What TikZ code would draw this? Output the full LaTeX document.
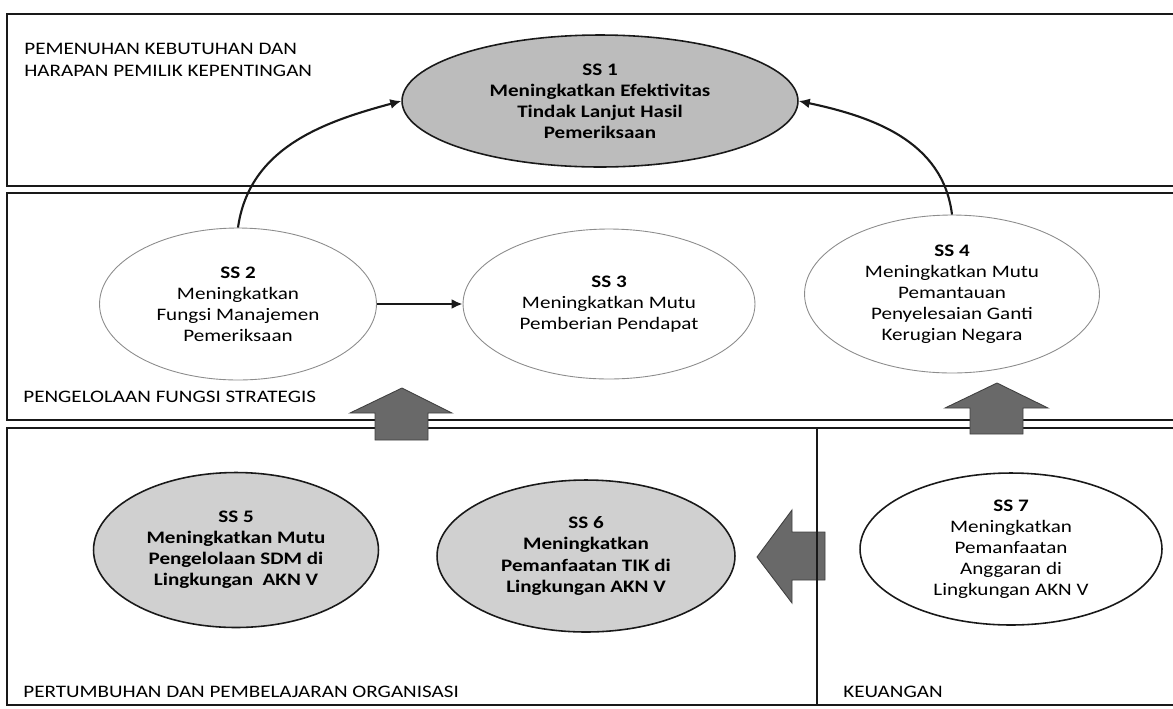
\documentclass[tikz,border=0pt]{standalone}
\usepackage{fontspec}
\setmainfont{Carlito}[FakeStretch=1.2]
\usetikzlibrary{arrows.meta,shapes.geometric}
\definecolor{bscgoalgray}{RGB}{188,188,188}
\definecolor{bscsoftgray}{RGB}{208,208,208}
\definecolor{bscarrowgray}{RGB}{105,105,105}
\definecolor{bscdark}{RGB}{25,25,25}
\tikzset{
  bsc oval/.style={
    ellipse,
    inner sep=0pt,
    align=center,
    font=\fontsize{10}{12}\selectfont,
  },
  bsc arrow/.style={
    -{Latex[length=2.2mm,width=2.0mm]},
    line width=1.2pt,
    draw=bscdark,
  },
}

\begin{document}
\begin{tikzpicture}[x=0.02cm,y=-0.02cm]
  \tikzstyle{panel}=[draw=bscdark, line width=0.8pt]
  \tikzstyle{goaloval}=[bsc oval, draw=bscdark, line width=0.9pt, fill=bscgoalgray, font=\fontsize{10}{12}\selectfont\bfseries]
  \tikzstyle{plainoval}=[bsc oval, draw=black!45, line width=0.5pt, fill=white]
  \tikzstyle{blockarrow}=[fill=bscarrowgray, draw=black!75, line width=0.5pt]
  \tikzstyle{perspective}=[inner sep=0pt, align=left, font=\fontsize{10}{12.5}\selectfont]

  \useasboundingbox (0,0) rectangle (1173,708);

  % Perspective panels
  \draw[panel] (1173,14) -- (7,14) -- (7,186) -- (1173,186);
  \draw[panel] (1173,193) -- (7,193) -- (7,420) -- (1173,420);
  \draw[panel] (1173,428) -- (7,428) -- (7,705) -- (1173,705);

  \node[perspective, anchor=north west] (lblstake) at (24,43)
    {PEMENUHAN KEBUTUHAN DAN\\HARAPAN PEMILIK KEPENTINGAN};
  \node[perspective, anchor=base west] (lblproc) at (23,402) {PENGELOLAAN FUNGSI STRATEGIS};
  \node[perspective, anchor=base west] (lblgrow) at (23,697) {PERTUMBUHAN DAN PEMBELAJARAN ORGANISASI};
  \node[perspective, anchor=base west] (lblfin) at (843,697) {KEUANGAN};

  % Strategic objectives
  \node[goaloval, minimum width=7.92cm, minimum height=2.64cm] (ss1) at (600,101)
    {SS 1\\Meningkatkan Efektivitas\\Tindak Lanjut Hasil\\Pemeriksaan};
  \node[plainoval, minimum width=5.54cm, minimum height=3.04cm] (ss2) at (238,304)
    {\textbf{SS 2}\\Meningkatkan\\Fungsi Manajemen\\Pemeriksaan};
  \node[plainoval, minimum width=5.84cm, minimum height=3.0cm] (ss3) at (609,304)
    {\textbf{SS 3}\\Meningkatkan Mutu\\Pemberian Pendapat};
  \node[plainoval, minimum width=5.9cm, minimum height=3.16cm] (ss4) at (952,294)
    {\textbf{SS 4}\\Meningkatkan Mutu\\Pemantauan\\Penyelesaian Ganti\\Kerugian Negara};
  \node[goaloval, fill=bscsoftgray, minimum width=5.7cm, minimum height=3.1cm] (ss5) at (236,550)
    {SS 5\\Meningkatkan Mutu\\Pengelolaan SDM di\\Lingkungan~ AKN V};
  \node[goaloval, fill=bscsoftgray, minimum width=5.96cm, minimum height=3.04cm] (ss6) at (586,556)
    {SS 6\\Meningkatkan\\Pemanfaatan TIK di\\Lingkungan AKN V};
  \node[plainoval, draw=bscdark, line width=0.9pt, minimum width=6.04cm, minimum height=3.04cm] (ss7) at (1011,549)
    {\textbf{SS 7}\\Meningkatkan\\Pemanfaatan\\Anggaran di\\Lingkungan AKN V};

  % Links
  \draw[bsc arrow] (ss2.north) to[out=82,in=195] (ss1.west);
  \draw[bsc arrow] (ss4.north) to[out=97,in=-12] (ss1.east);
  \draw[bsc arrow, line width=1.6pt] (ss2.east) -- (ss3.west);

  % Block arrows between perspectives
  \filldraw[blockarrow] (402,388) -- (452,413) -- (428,413) -- (428,440)
    -- (375,440) -- (375,413) -- (350,413) -- cycle;
  \filldraw[blockarrow] (997,383) -- (1048,408) -- (1023,408) -- (1023,434)
    -- (970,434) -- (970,408) -- (945,408) -- cycle;
  \filldraw[blockarrow] (757,557) -- (792,510) -- (792,532) -- (825,532)
    -- (825,580) -- (792,580) -- (792,603) -- cycle;

  \draw[panel] (817,428) -- (817,705);
\end{tikzpicture}
\end{document}
